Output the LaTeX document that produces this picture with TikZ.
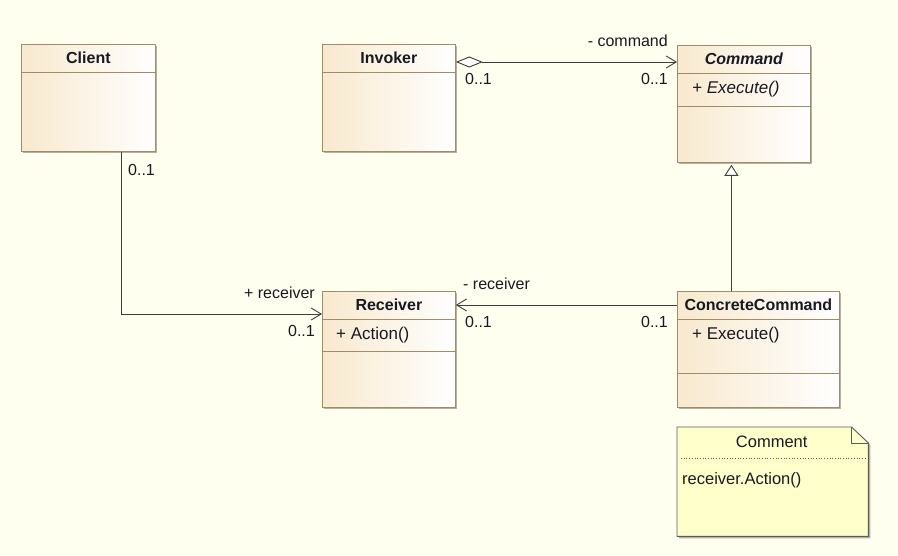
\documentclass[tikz,border=0pt]{standalone}
\usepackage{fontspec}
\setmainfont{Liberation Sans}
\usetikzlibrary{arrows.meta,shadows}
\definecolor{umlbg}{RGB}{255,255,240}
\definecolor{umlbeige}{RGB}{248,233,206}
\definecolor{umlborder}{RGB}{160,140,102}
\definecolor{umlline}{RGB}{62,62,62}
\definecolor{umltext}{RGB}{25,25,35}
\definecolor{notefill}{RGB}{255,255,204}
\definecolor{noteborder}{RGB}{92,92,92}
\tikzset{
	umlclass/.style={draw=umlborder, line width=0.8pt, left color=umlbeige, right color=white, anchor=north west, inner sep=0pt, drop shadow={shadow xshift=2pt, shadow yshift=-2pt, opacity=0.3, fill=black}},
	sepline/.style={draw=umlborder, line width=0.8pt},
	classname/.style={font=\fontsize{16}{19}\selectfont\bfseries, text=umltext, inner sep=0pt},
	member/.style={font=\fontsize{17}{20}\selectfont, text=umltext, anchor=west, inner sep=0pt},
	role/.style={font=\fontsize{16}{19}\selectfont, text=umltext, inner sep=0pt},
	assoc/.style={draw=umlline, line width=0.9pt},
	notebox/.style={draw=noteborder, line width=0.9pt, fill=notefill, drop shadow={shadow xshift=2pt, shadow yshift=-2pt, opacity=0.3, fill=black}},
	notetext/.style={font=\fontsize{16.5}{19}\selectfont, text=umltext, inner sep=0pt}
}
\begin{document}
\begin{tikzpicture}[x=1pt, y=-1pt]
		%%%%% START %%%%%
		
		\path[use as bounding box, fill=umlbg] (0,0) rectangle (898,556);
		
		\node[umlclass, minimum width=134pt, minimum height=107pt] (Client) at (21,44) {};
		\node[umlclass, minimum width=133pt, minimum height=107pt] (Invoker) at (322,44) {};
		\node[umlclass, minimum width=133pt, minimum height=117pt] (Command) at (677,45) {};
		\node[umlclass, minimum width=133pt, minimum height=116pt] (Receiver) at (322,291) {};
		\node[umlclass, minimum width=162pt, minimum height=116pt] (Concrete) at (677,291) {};
		
		\draw[sepline] ([yshift=-28pt]Client.north west) -- ([yshift=-28pt]Client.north east);
		\draw[sepline] ([yshift=-28pt]Invoker.north west) -- ([yshift=-28pt]Invoker.north east);
		\draw[sepline] ([yshift=-28pt]Command.north west) -- ([yshift=-28pt]Command.north east);
		\draw[sepline] ([yshift=-61pt]Command.north west) -- ([yshift=-61pt]Command.north east);
		\draw[sepline] ([yshift=-28pt]Receiver.north west) -- ([yshift=-28pt]Receiver.north east);
		\draw[sepline] ([yshift=-60pt]Receiver.north west) -- ([yshift=-60pt]Receiver.north east);
		\draw[sepline] ([yshift=-28pt]Concrete.north west) -- ([yshift=-28pt]Concrete.north east);
		\draw[sepline] ([yshift=-82pt]Concrete.north west) -- ([yshift=-82pt]Concrete.north east);
		
		\node[classname] (ClientTitle) at ([yshift=-14pt]Client.north) {Client};
		\node[classname] (InvokerTitle) at ([yshift=-14pt]Invoker.north) {Invoker};
		\node[classname] (CommandTitle) at ([yshift=-14pt]Command.north) {\itshape Command};
		\node[classname] (ReceiverTitle) at ([yshift=-14pt]Receiver.north) {Receiver};
		\node[classname] (ConcreteTitle) at ([yshift=-14pt]Concrete.north) {ConcreteCommand};
		
		\node[member] (CommandExec) at ([xshift=15pt, yshift=-44pt]Command.north west) {\itshape + Execute()};
		\node[member] (ReceiverAction) at ([xshift=14pt, yshift=-44pt]Receiver.north west) {+ Action()};
		\node[member] (ConcreteExec) at ([xshift=15pt, yshift=-44pt]Concrete.north west) {+ Execute()};
		
		\draw[assoc, {Diamond[length=27pt, width=11pt, fill=white]}-{Straight Barb[length=10pt, width=12pt]}] ([yshift=-18pt]Invoker.north east) -- ([yshift=-17pt]Command.north west);
		\draw[assoc, -{Straight Barb[length=10pt, width=12pt]}] ([xshift=33pt]Client.south) |- ([yshift=-23pt]Receiver.north west);
		\draw[assoc, -{Straight Barb[length=10pt, width=12pt]}] ([yshift=-14pt]Concrete.north west) -- ([yshift=-14pt]Receiver.north east);
		\draw[assoc, -{Triangle[open, fill=white, length=11pt, width=14pt]}, shorten >=2pt] ([xshift=-27pt]Concrete.north) -- ([xshift=-12.5pt]Command.south);
		
		\node[role, anchor=west] (ClientMult) at (128,170) {0..1};
		\node[role, anchor=west] (InvokerMult) at (465,79) {0..1};
		\node[role, anchor=east] (CommandRole) at (668,41) {- command};
		\node[role, anchor=east] (CommandMult) at (668,79) {0..1};
		\node[role, anchor=east] (ReceiverRoleA) at (315,293) {+ receiver};
		\node[role, anchor=east] (ReceiverMultA) at (315,331) {0..1};
		\node[role, anchor=west] (ReceiverRoleB) at (463,284) {- receiver};
		\node[role, anchor=west] (ReceiverMultB) at (465,322) {0..1};
		\node[role, anchor=east] (ConcreteMult) at (668,322) {0..1};
		
		\node[inner sep=0pt, minimum width=191pt, minimum height=109pt, anchor=north west] (Note) at (677,427) {};
		\draw[notebox] (Note.north west) -- ([xshift=-17pt]Note.north east) -- ([yshift=-16pt]Note.north east) -- (Note.south east) -- (Note.south west) -- cycle;
		\draw[draw=noteborder, line width=0.9pt] ([xshift=-17pt]Note.north east) |- ([yshift=-16pt]Note.north east);
		\draw[draw=noteborder, dotted, line width=0.7pt] ([xshift=4pt, yshift=-31pt]Note.north west) -- ([xshift=-3pt, yshift=-31pt]Note.north east);
		\node[notetext] (NoteTitle) at ([xshift=-1pt, yshift=-15pt]Note.north) {Comment};
		\node[notetext, anchor=west] (NoteBody) at ([xshift=5pt, yshift=-53pt]Note.north west) {receiver.Action()};
		
		%%%%% END %%%%%
	\end{tikzpicture}
\end{document}
